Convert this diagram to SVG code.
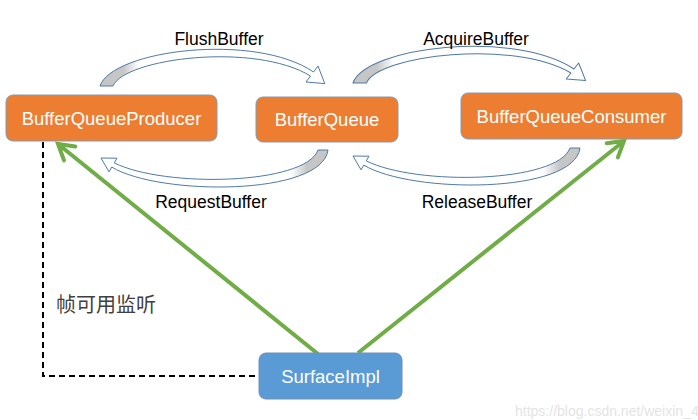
<svg xmlns="http://www.w3.org/2000/svg" width="698" height="420" viewBox="0 0 698 420">
  <defs>
    <style>
      .node-o { fill: #ED7D31; stroke: #7F9DB9; stroke-width: 1; }
      .node-b { fill: #5B9BD5; stroke: #6F8FB5; stroke-width: 1; }
      .ntext { font-family: "Liberation Sans", "Open Sans", sans-serif; font-size: 18.5px; fill: #ffffff; text-anchor: middle; }
      .lbl { font-family: "Liberation Sans", "Open Sans", sans-serif; font-size: 17.5px; fill: #000000; text-anchor: middle; }
      .cjk { font-family: "Noto Sans CJK SC", "DejaVu Sans", sans-serif; font-size: 20px; fill: #404040; }
      .green { fill: none; stroke: #70AD47; stroke-width: 4; }
      .dash { fill: none; stroke: #000000; stroke-width: 2; stroke-dasharray: 6 4; }
      .carrow { stroke: #4F7AA8; stroke-width: 1; stroke-linejoin: round; }
      .wm { font-family: "Liberation Sans", sans-serif; font-size: 14px; fill: #e4e4e4; }
    </style>
    <linearGradient id="gTop" gradientUnits="userSpaceOnUse" x1="100" y1="0" x2="330" y2="0">
      <stop offset="0" stop-color="#c6c6c6"/>
      <stop offset="0.1" stop-color="#c6c6c6"/>
      <stop offset="0.17" stop-color="#ffffff"/>
      <stop offset="1" stop-color="#ffffff"/>
    </linearGradient>
    <linearGradient id="gBot" gradientUnits="userSpaceOnUse" x1="330" y1="0" x2="100" y2="0">
      <stop offset="0" stop-color="#c6c6c6"/>
      <stop offset="0.1" stop-color="#c6c6c6"/>
      <stop offset="0.17" stop-color="#ffffff"/>
      <stop offset="1" stop-color="#ffffff"/>
    </linearGradient>
    <marker id="vhead" markerUnits="userSpaceOnUse" markerWidth="30" markerHeight="30" viewBox="-20 -15 30 30" refX="0" refY="0" orient="auto">
      <path d="M-15,-9 L0,0 L-15,9" fill="none" stroke="#70AD47" stroke-width="4" stroke-linecap="round" stroke-linejoin="miter"/>
    </marker>
  </defs>

  <rect width="698" height="420" fill="#ffffff"/>

  <g id="connectors">
    <g id="flush">
      <path class="carrow" fill="url(#gTop)" d="M100,86 C112,50 255,32 313.5,72 L318,66 L324.8,83.6 L306,82 L310.5,76 C255,42 125,58 113,86 Z"/>
    </g>
    <g id="acquire" transform="translate(353,-3) scale(1.035,1) translate(-100,0)">
      <path class="carrow" fill="url(#gTop)" d="M100,86 C112,50 255,32 313.5,72 L318,66 L324.8,83.6 L306,82 L310.5,76 C255,42 125,58 113,86 Z"/>
    </g>
    <g id="request">
      <path class="carrow" fill="url(#gBot)" d="M328,150 C322,196 160,196 111.75,167.1 L109,171.8 L101,158 L117,158.2 L114.25,162.9 C165,188 305,185 318,150 Z"/>
    </g>
    <g id="release" transform="translate(252,-2)">
      <path class="carrow" fill="url(#gBot)" d="M328,150 C322,196 160,196 111.75,167.1 L109,171.8 L101,158 L117,158.2 L114.25,162.9 C165,188 305,185 318,150 Z"/>
    </g>
    <line class="green" x1="318" y1="354" x2="58" y2="144" marker-end="url(#vhead)"/>
    <line class="green" x1="358" y1="353" x2="624" y2="141" marker-end="url(#vhead)"/>
    <polyline class="dash" points="43,142 43,376 259,376"/>
    <text class="lbl" x="219" y="45">FlushBuffer</text>
    <text class="lbl" x="476" y="45">AcquireBuffer</text>
    <text class="lbl" x="211" y="208">RequestBuffer</text>
    <text class="lbl" x="477" y="208">ReleaseBuffer</text>
    <text class="cjk" x="56" y="312">帧可用监听</text>
  </g>

  <g id="BufferQueueProducer">
    <rect class="node-o" x="6" y="95" width="211" height="46" rx="7"/>
    <text class="ntext" x="111.5" y="125">BufferQueueProducer</text>
  </g>
  <g id="BufferQueue">
    <rect class="node-o" x="256" y="97" width="142" height="45" rx="7"/>
    <text class="ntext" x="327" y="126">BufferQueue</text>
  </g>
  <g id="BufferQueueConsumer">
    <rect class="node-o" x="461" y="93" width="221" height="46" rx="7"/>
    <text class="ntext" x="571.5" y="123">BufferQueueConsumer</text>
  </g>
  <g id="SurfaceImpl">
    <rect class="node-b" x="259" y="353" width="143" height="46" rx="7"/>
    <text class="ntext" x="330.5" y="383">SurfaceImpl</text>
  </g>

  <text class="wm" x="515" y="416">https://blog.csdn.net/weixin_4</text>
</svg>
